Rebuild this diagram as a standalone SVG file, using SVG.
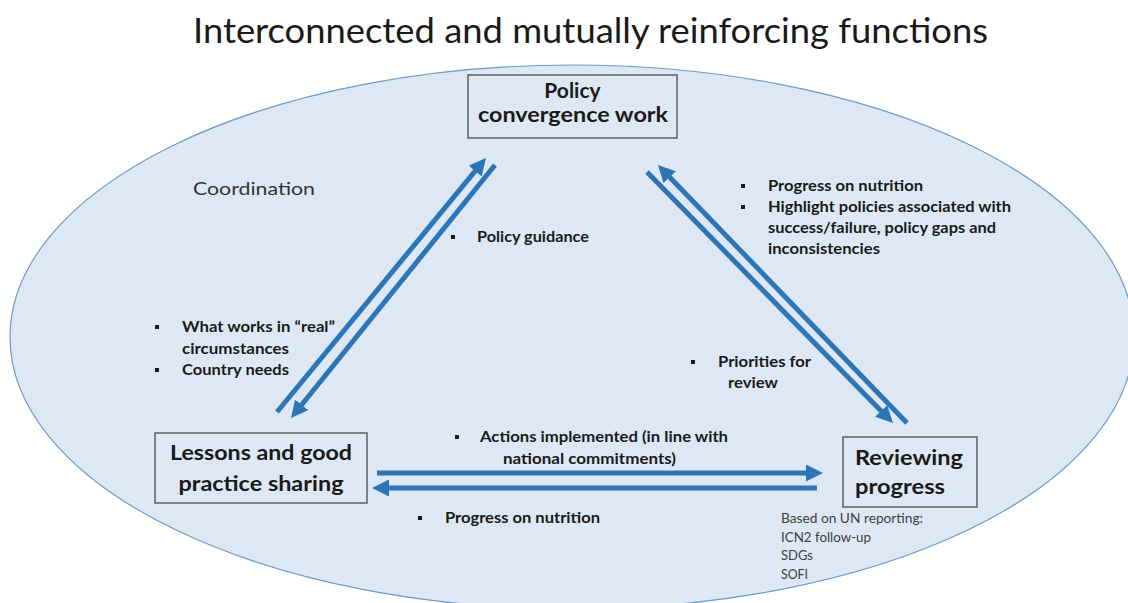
<svg xmlns="http://www.w3.org/2000/svg" width="1128" height="603" viewBox="0 0 1128 603">
<defs>
<marker id="ah" viewBox="0 0 17 17" markerUnits="userSpaceOnUse" markerWidth="17" markerHeight="17" refX="7" refY="8.5" orient="auto">
<path d="M0,0 L17,8.5 L0,17 z" fill="#2e75b6"/>
</marker>
</defs>
<style>
.title{font-family:Lato,"Open Sans","Liberation Sans",sans-serif;font-size:34px;fill:#1a1a1a}
.box{fill:none;stroke:#5f5f5f;stroke-width:1.5}
.bt{font-family:Lato,"Open Sans","Liberation Sans",sans-serif;font-size:21px;font-weight:bold;fill:#1a1a1a}
.lb{font-family:Lato,"Open Sans","Liberation Sans",sans-serif;font-size:15px;font-weight:bold;fill:#1a1a1a}
.sm{font-family:Lato,"Open Sans","Liberation Sans",sans-serif;font-size:13px;fill:#404040}
.co{font-family:Lato,"Open Sans","Liberation Sans",sans-serif;font-size:17px;fill:#333}
.ar{stroke:#2e75b6;stroke-width:5;fill:none;marker-end:url(#ah)}
.bu{fill:#1a1a1a}
</style>
<rect width="1128" height="603" fill="#ffffff"/>
<text class="title" x="193" y="43" textLength="795" lengthAdjust="spacingAndGlyphs">Interconnected and mutually reinforcing functions</text>
<ellipse id="coordination" cx="572" cy="337" rx="562" ry="272" fill="#dee8f4" stroke="#6d9ac6" stroke-width="1.2"/>
<text class="co" x="193" y="195" textLength="122" lengthAdjust="spacingAndGlyphs">Coordination</text>

<g id="connectors">
<path class="ar" d="M277,412 L479.6,165.7"/>
<path class="ar" d="M495,165 L297.3,410.2"/>
<path class="ar" d="M907,423 L664.9,172.2"/>
<path class="ar" d="M647,172 L886,415.9"/>
<path class="ar" d="M377,473 L813,473"/>
<path class="ar" d="M817,488 L382,488"/>
</g>

<g id="policy">
<rect class="box" x="468" y="75" width="209" height="63"/>
<text class="bt" x="572.5" y="98" text-anchor="middle">Policy</text>
<text class="bt" x="573" y="122" text-anchor="middle" textLength="190" lengthAdjust="spacingAndGlyphs">convergence work</text>
</g>

<g id="lessons">
<rect class="box" x="155" y="433" width="212" height="70"/>
<text class="bt" x="261" y="460" text-anchor="middle" textLength="182" lengthAdjust="spacingAndGlyphs">Lessons and good</text>
<text class="bt" x="261" y="491" text-anchor="middle" textLength="165" lengthAdjust="spacingAndGlyphs">practice sharing</text>
</g>

<g id="reviewing">
<rect class="box" x="843" y="437" width="134" height="70"/>
<text class="bt" x="855" y="465" textLength="108" lengthAdjust="spacingAndGlyphs">Reviewing</text>
<text class="bt" x="855" y="494" textLength="90" lengthAdjust="spacingAndGlyphs">progress</text>
<text class="sm" x="781" y="523" textLength="142" lengthAdjust="spacingAndGlyphs">Based on UN reporting:</text>
<text class="sm" x="781" y="542" textLength="90" lengthAdjust="spacingAndGlyphs">ICN2 follow-up</text>
<text class="sm" x="781" y="560" textLength="32" lengthAdjust="spacingAndGlyphs">SDGs</text>
<text class="sm" x="781" y="579" textLength="27" lengthAdjust="spacingAndGlyphs">SOFI</text>
</g>

<g id="label-policy-guidance">
<rect class="bu" x="451" y="235" width="4" height="4"/>
<text class="lb" x="477" y="242" textLength="112" lengthAdjust="spacingAndGlyphs">Policy guidance</text>
</g>

<g id="label-left">
<rect class="bu" x="155" y="325" width="4" height="4"/>
<text class="lb" x="182" y="332" textLength="153" lengthAdjust="spacingAndGlyphs">What works in “real”</text>
<text class="lb" x="182" y="354" textLength="107" lengthAdjust="spacingAndGlyphs">circumstances</text>
<rect class="bu" x="155" y="368" width="4" height="4"/>
<text class="lb" x="182" y="375" textLength="107" lengthAdjust="spacingAndGlyphs">Country needs</text>
</g>

<g id="label-right">
<rect class="bu" x="741" y="184" width="4" height="4"/>
<text class="lb" x="768" y="191" textLength="155" lengthAdjust="spacingAndGlyphs">Progress on nutrition</text>
<rect class="bu" x="741" y="205" width="4" height="4"/>
<text class="lb" x="768" y="212" textLength="243" lengthAdjust="spacingAndGlyphs">Highlight policies associated with</text>
<text class="lb" x="768" y="233" textLength="228" lengthAdjust="spacingAndGlyphs">success/failure, policy gaps and</text>
<text class="lb" x="768" y="254" textLength="112" lengthAdjust="spacingAndGlyphs">inconsistencies</text>
</g>

<g id="label-priorities">
<rect class="bu" x="691" y="360" width="4" height="4"/>
<text class="lb" x="718" y="367" textLength="93" lengthAdjust="spacingAndGlyphs">Priorities for</text>
<text class="lb" x="728" y="388" textLength="50" lengthAdjust="spacingAndGlyphs">review</text>
</g>

<g id="label-actions">
<rect class="bu" x="455" y="435" width="4" height="4"/>
<text class="lb" x="480" y="442" textLength="248" lengthAdjust="spacingAndGlyphs">Actions implemented (in line with</text>
<text class="lb" x="503" y="464" textLength="173" lengthAdjust="spacingAndGlyphs">national commitments)</text>
</g>

<g id="label-progress-bottom">
<rect class="bu" x="418" y="516" width="4" height="4"/>
<text class="lb" x="445" y="523" textLength="155" lengthAdjust="spacingAndGlyphs">Progress on nutrition</text>
</g>
</svg>
